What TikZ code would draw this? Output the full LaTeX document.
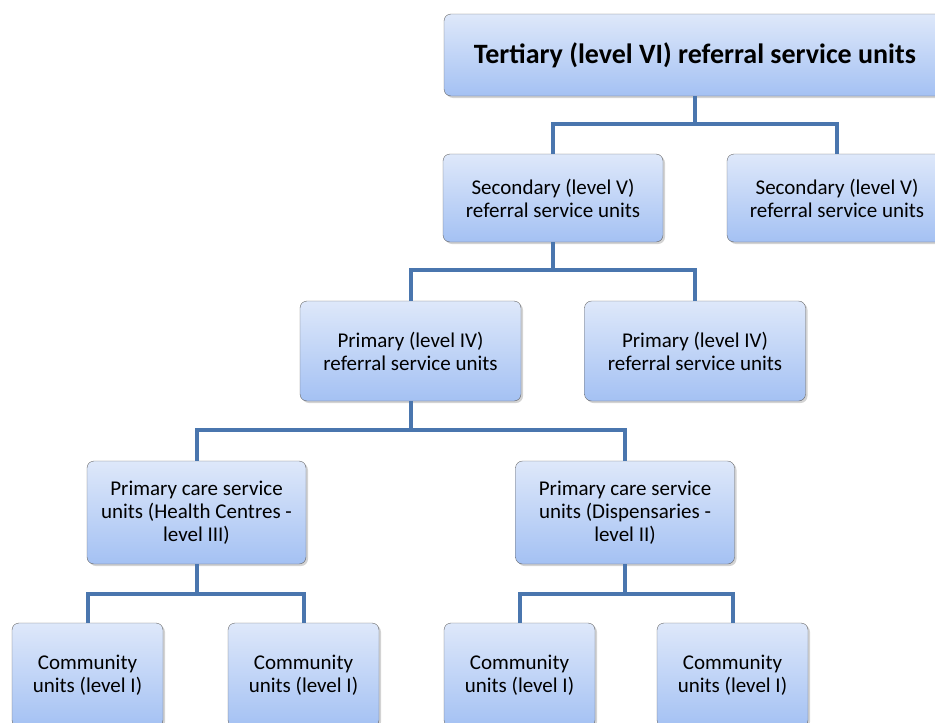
\documentclass[tikz,border=0pt]{standalone}
\usepackage{fontspec}
\setmainfont{Carlito}
\usetikzlibrary{shadows}

\definecolor{boxtop}{HTML}{DEE8FA}
\definecolor{boxbot}{HTML}{A4C1F3}
\definecolor{linkblue}{HTML}{4A76AE}

\begin{document}
\begin{tikzpicture}[x=1pt,y=-1pt,semithick]

    \tikzstyle{unit}=[draw=black!60,thin,rounded corners=7pt,top color=boxtop,bottom color=boxbot,
                      align=center,font=\fontsize{21}{23}\selectfont,
                      drop shadow={shadow xshift=2pt,shadow yshift=-2pt,opacity=0.35}]
    \tikzstyle{link}=[draw=linkblue,line width=4pt]

    \useasboundingbox (0,0) rectangle (935,723);

    \node[unit, minimum width=502pt, minimum height=82pt,
          font=\fontsize{28}{30}\selectfont\bfseries] (ter)  at (695,55)    {Tertiary (level VI) referral service units};
    \node[unit, minimum width=220pt, minimum height=88pt]  (secA) at (553,198)   {Secondary (level V)\\referral service units};
    \node[unit, minimum width=220pt, minimum height=88pt]  (secB) at (837,198)   {Secondary (level V)\\referral service units};
    \node[unit, minimum width=221pt, minimum height=100pt] (priA) at (410.5,351) {Primary (level IV)\\referral service units};
    \node[unit, minimum width=221pt, minimum height=100pt] (priB) at (695,351)   {Primary (level IV)\\referral service units};
    \node[unit, minimum width=219pt, minimum height=103pt] (hc)   at (196.5,512.5) {Primary care service\\units (Health Centres -\\level III)};
    \node[unit, minimum width=219pt, minimum height=103pt] (disp) at (625,512.5) {Primary care service\\units (Dispensaries -\\level II)};
    \node[unit, minimum width=151pt, minimum height=104pt] (comA) at (87.5,675)  {Community\\units (level I)};
    \node[unit, minimum width=151pt, minimum height=104pt] (comB) at (303.5,675) {Community\\units (level I)};
    \node[unit, minimum width=151pt, minimum height=104pt] (comC) at (519.5,675) {Community\\units (level I)};
    \node[unit, minimum width=151pt, minimum height=104pt] (comD) at (732.5,675) {Community\\units (level I)};

    \path[link] (ter.south)  -- ++(0,28) -| (secA.north)
                (ter.south)  -- ++(0,28) -| (secB.north)
                (secA.south) -- ++(0,28) -| (priA.north)
                (secA.south) -- ++(0,28) -| (priB.north)
                (priA.south) -- ++(0,29) -| (hc.north)
                (priA.south) -- ++(0,29) -| (disp.north)
                (hc.south)   -- ++(0,30) -| (comA.north)
                (hc.south)   -- ++(0,30) -| (comB.north)
                (disp.south) -- ++(0,30) -| (comC.north)
                (disp.south) -- ++(0,30) -| (comD.north);
\end{tikzpicture}
\end{document}
